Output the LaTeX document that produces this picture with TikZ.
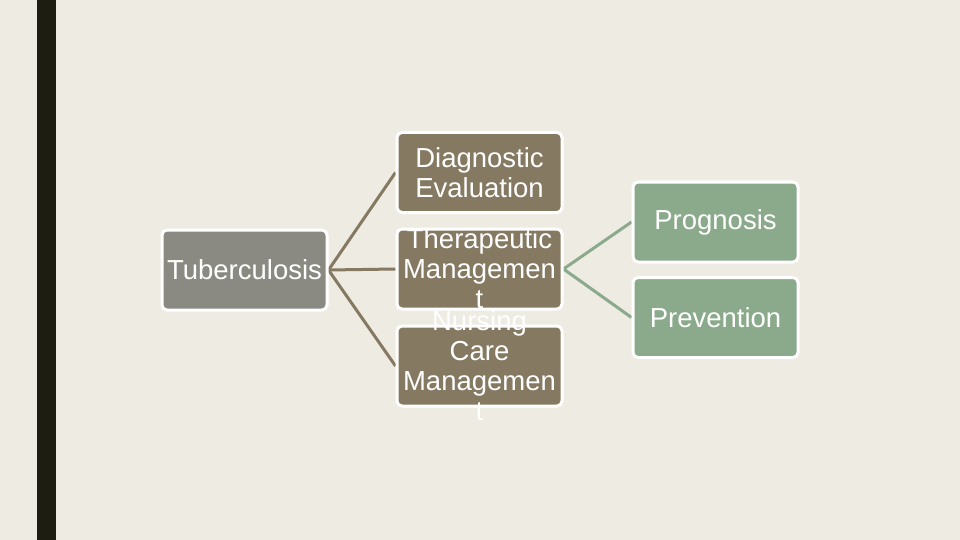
\documentclass[tikz,border=0pt]{standalone}
\usepackage{fontspec}
\setmainfont{Liberation Sans}
\usetikzlibrary{backgrounds}
\definecolor{bgc}{RGB}{238,235,227}
\definecolor{barc}{RGB}{29,29,17}
\definecolor{grayc}{RGB}{138,138,131}
\definecolor{brownc}{RGB}{133,121,98}
\definecolor{greenc}{RGB}{139,170,140}
\tikzset{
  box/.style={draw=white, line width=3pt, rounded corners=5pt, minimum width=165pt, minimum height=80pt, inner sep=0pt},
  graybox/.style={box, fill=grayc},
  brownbox/.style={box, fill=brownc},
  greenbox/.style={box, fill=greenc},
  lbl/.style={text=white, align=center, inner sep=0pt, font=\fontsize{27.5}{30}\selectfont},
  brownline/.style={draw=brownc, line width=3pt},
  greenline/.style={draw=greenc, line width=3pt}
}
\begin{document}
\begin{tikzpicture}[x=1pt,y=-1pt]
\useasboundingbox (0,0) rectangle (960,540);
\begin{scope}[on background layer]
\fill[bgc] (0,0) rectangle (960,540);
\fill[barc] (37,0) rectangle (56,540);
\end{scope}
\node[graybox] (tb) at (244.5,270) {};
\node[brownbox] (diag) at (479.5,172.5) {};
\node[brownbox] (ther) at (479.5,269) {};
\node[brownbox] (nurs) at (479.5,366) {};
\node[greenbox] (prog) at (715.5,222) {};
\node[greenbox] (prev) at (715.5,317.5) {};
\begin{scope}[on background layer]
\draw[brownline] (tb.east) -- (diag.west);
\draw[brownline] (tb.east) -- (ther.west);
\draw[brownline] (tb.east) -- (nurs.west);
\draw[greenline] (ther.east) -- (prog.west);
\draw[greenline] (ther.east) -- (prev.west);
\end{scope}
\node[lbl] (tbt) at (tb.center) {Tuberculosis};
\node[lbl] (diagt) at (diag.center) {Diagnostic\\Evaluation};
\node[lbl] (thert) at (ther.center) {Therapeutic\\Managemen\\t};
\node[lbl] (nurst) at (nurs.center) {Nursing\\Care\\Managemen\\t};
\node[lbl] (progt) at (prog.center) {Prognosis};
\node[lbl] (prevt) at (prev.center) {Prevention};
\end{tikzpicture}
\end{document}
